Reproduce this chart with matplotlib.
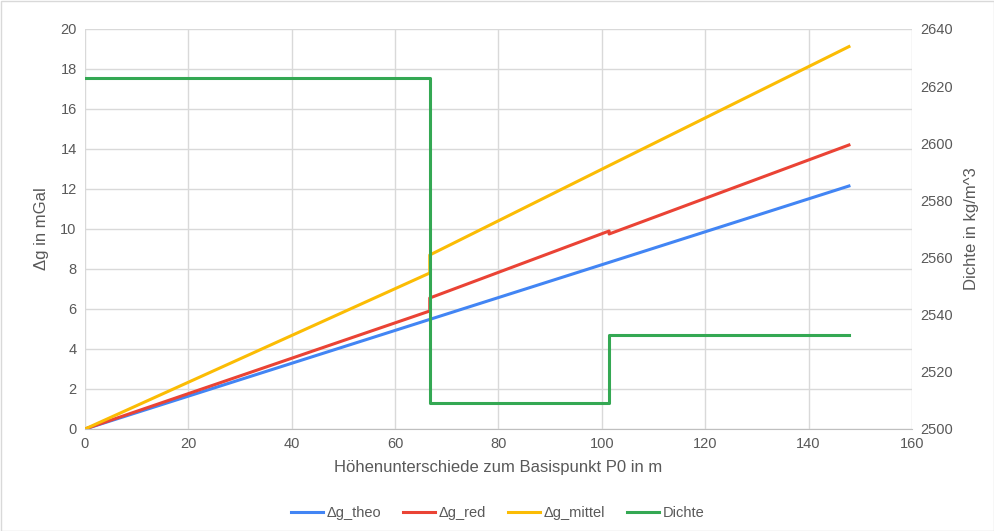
import matplotlib.pyplot as plt
from matplotlib.patches import Rectangle

plt.rcParams['font.family'] = ['Liberation Sans', 'DejaVu Sans']

# Daten
h = [0, 66.7, 66.7, 101.4, 101.4, 147.8]
dg_theo = [0, 5.48, 5.48, 8.33, 8.33, 12.15]
dg_red = [0, 5.9, 6.55, 9.9, 9.75, 14.2]
dg_mittel = [0, 7.8, 8.7, 13.17, 13.17, 19.12]
h_dichte = [0, 66.7, 66.7, 101.4, 101.4, 147.8]
dichte = [2623, 2623, 2509, 2509, 2533, 2533]

c_theo = '#4285F4'
c_red = '#EA4335'
c_mittel = '#FBBC04'
c_dichte = '#34A853'
txt = '#595959'

fig = plt.figure(figsize=(9.95, 5.31), dpi=100)
ax = fig.add_axes([85/995, 1 - 429/531, (912-85)/995, (429-29)/531])
ax2 = ax.twinx()

ax.plot(h, dg_theo, color=c_theo, lw=2.2, label='Δg_theo')
ax.plot(h, dg_red, color=c_red, lw=2.2, label='Δg_red')
ax.plot(h, dg_mittel, color=c_mittel, lw=2.2, label='Δg_mittel')
ax2.plot(h_dichte, dichte, color=c_dichte, lw=2.2, label='Dichte')

ax.set_xlim(0, 160)
ax.set_ylim(0, 20)
ax.set_xticks(range(0, 161, 20))
ax.set_yticks(range(0, 21, 2))
ax2.set_ylim(2500, 2640)
ax2.set_yticks(range(2500, 2641, 20))

ax.grid(True, color='#D9D9D9', lw=1)
ax.set_axisbelow(True)
for a in (ax, ax2):
    for s in a.spines.values():
        s.set_visible(False)
    a.tick_params(length=0, labelsize=10.5, colors=txt, pad=6)
ax.spines['bottom'].set_visible(True)
ax.spines['bottom'].set_color('#BFBFBF')

ax.set_xlabel('Höhenunterschiede zum Basispunkt P0 in m', fontsize=12, color=txt, labelpad=6)
ax.set_ylabel('Δg in mGal', fontsize=12, color=txt, labelpad=8)
ax2.set_ylabel('Dichte in kg/m^3', fontsize=12, color=txt, labelpad=8)

handles = ax.get_lines() + ax2.get_lines()
fig.legend(handles, [l.get_label() for l in handles], loc='center', bbox_to_anchor=(0.5, 1 - 513/531),
           ncol=4, frameon=False, fontsize=10.5, labelcolor=txt, handlelength=2.2,
           columnspacing=1.5, handletextpad=0.25)

fig.patches.append(Rectangle((0.5/995, 0.5/531), 1 - 1/995, 1 - 1/531, transform=fig.transFigure,
                             fill=False, edgecolor='#D9D9D9', lw=1))

fig.savefig('out.png', dpi=100)
